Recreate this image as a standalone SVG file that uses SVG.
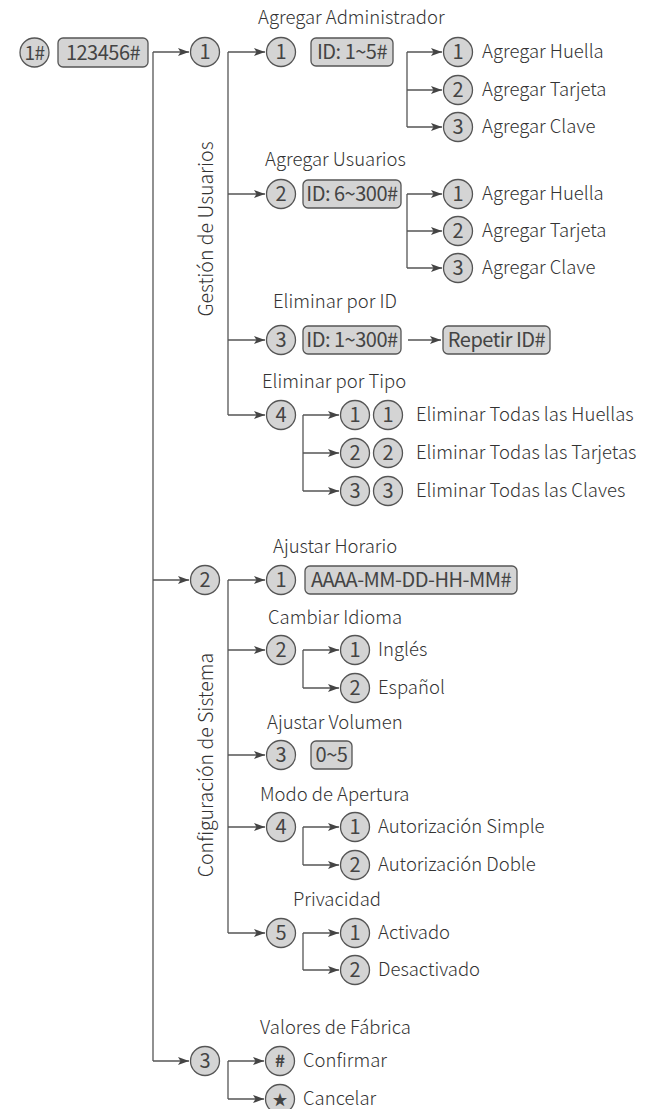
<svg xmlns="http://www.w3.org/2000/svg" width="647" height="1109" viewBox="0 0 647 1109">
<style>
text{font-family:"Noto Sans CJK SC","Source Sans Pro","Liberation Sans",sans-serif;font-weight:300;fill:#333;font-size:18.5px}
.c{fill:#d4d4d4;stroke:#555;stroke-width:1.3}
.b{fill:#d4d4d4;stroke:#555;stroke-width:1.3}
.n{text-anchor:middle;font-size:20px;font-weight:400;fill:#444}
.bt{text-anchor:middle;font-size:20px;font-weight:400;fill:#444;letter-spacing:-0.5px}
.r{text-anchor:middle;font-size:19.5px}
.l{fill:none;stroke:#555;stroke-width:1.3}
.a{fill:none;stroke:#555;stroke-width:1.3;marker-end:url(#ah)}
</style>
<defs>
<marker id="ah" markerUnits="userSpaceOnUse" markerWidth="12" markerHeight="10" refX="11" refY="4" orient="auto">
<path d="M0,0 L11,4 L0,8 L2.5,4 z" fill="#444"/>
</marker>
</defs>
<rect width="647" height="1109" fill="#fff"/>
<g id="connectors">
<path class="l" d="M153,52 V1061"/>
<path class="a" d="M153,52 H189"/>
<path class="a" d="M153,580 H189"/>
<path class="a" d="M153,1061 H189"/>
<path class="l" d="M228,52 V415"/>
<path class="a" d="M228,52 H265"/>
<path class="a" d="M228,194 H265"/>
<path class="a" d="M228,340 H265"/>
<path class="a" d="M228,415 H265"/>
<path class="l" d="M407,52 V127"/>
<path class="a" d="M407,52 H442"/>
<path class="a" d="M407,90 H442"/>
<path class="a" d="M407,127 H442"/>
<path class="l" d="M407,194 V268"/>
<path class="a" d="M407,194 H442"/>
<path class="a" d="M407,231 H442"/>
<path class="a" d="M407,268 H442"/>
<path class="a" d="M408,340 H441"/>
<path class="l" d="M303,415 V491"/>
<path class="a" d="M303,415 H339"/>
<path class="a" d="M303,453 H339"/>
<path class="a" d="M303,491 H339"/>
<path class="l" d="M228,580 V933"/>
<path class="a" d="M228,580 H265"/>
<path class="a" d="M228,650 H265"/>
<path class="a" d="M228,755 H265"/>
<path class="a" d="M228,827 H265"/>
<path class="a" d="M228,933 H265"/>
<path class="l" d="M303,650 V688"/>
<path class="a" d="M303,650 H339"/>
<path class="a" d="M303,688 H339"/>
<path class="l" d="M303,827 V865"/>
<path class="a" d="M303,827 H339"/>
<path class="a" d="M303,865 H339"/>
<path class="l" d="M303,933 V970"/>
<path class="a" d="M303,933 H339"/>
<path class="a" d="M303,970 H339"/>
<path class="l" d="M228,1061 V1099"/>
<path class="a" d="M228,1061 H264"/>
<path class="a" d="M228,1099 H264"/>
</g>
<g id="start">
<circle class="c" cx="34.5" cy="52.5" r="14.5"/><text class="n" x="34.5" y="59.5" style="font-size:19px;letter-spacing:-0.5px">1#</text>
<rect class="b" x="58" y="38" width="90" height="29" rx="5"/><text class="bt" x="103" y="59.5">123456#</text>
</g>
<g id="gestion">
<circle class="c" cx="205" cy="52" r="14.5"/><text class="n" x="205" y="59">1</text>
<text class="r" x="213" y="229" transform="rotate(-90 213 229)">Gestión de Usuarios</text>
</g>
<g id="agregar-admin">
<text x="258" y="24">Agregar Administrador</text>
<circle class="c" cx="281" cy="52" r="14.5"/><text class="n" x="281" y="59">1</text>
<rect class="b" x="311" y="38" width="82" height="28" rx="5"/><text class="bt" x="352" y="59">ID: 1~5#</text>
<circle class="c" cx="458" cy="52" r="14.5"/><text class="n" x="458" y="59">1</text><text x="482" y="58">Agregar Huella</text>
<circle class="c" cx="458" cy="90" r="14.5"/><text class="n" x="458" y="97">2</text><text x="482" y="96">Agregar Tarjeta</text>
<circle class="c" cx="458" cy="127" r="14.5"/><text class="n" x="458" y="134">3</text><text x="482" y="133">Agregar Clave</text>
</g>
<g id="agregar-usuarios">
<text x="265" y="166">Agregar Usuarios</text>
<circle class="c" cx="281" cy="194" r="14.5"/><text class="n" x="281" y="201">2</text>
<rect class="b" x="303" y="180" width="98" height="28" rx="5"/><text class="bt" x="352" y="201">ID: 6~300#</text>
<circle class="c" cx="458" cy="194" r="14.5"/><text class="n" x="458" y="201">1</text><text x="482" y="200">Agregar Huella</text>
<circle class="c" cx="458" cy="231" r="14.5"/><text class="n" x="458" y="238">2</text><text x="482" y="237">Agregar Tarjeta</text>
<circle class="c" cx="458" cy="268" r="14.5"/><text class="n" x="458" y="275">3</text><text x="482" y="274">Agregar Clave</text>
</g>
<g id="eliminar-id">
<text x="273" y="308">Eliminar por ID</text>
<circle class="c" cx="281" cy="340" r="14.5"/><text class="n" x="281" y="347">3</text>
<rect class="b" x="303" y="326" width="98" height="28" rx="5"/><text class="bt" x="352" y="347">ID: 1~300#</text>
<rect class="b" x="443" y="326" width="107" height="28" rx="5"/><text class="bt" x="496.5" y="347">Repetir ID#</text>
</g>
<g id="eliminar-tipo">
<text x="262" y="388">Eliminar por Tipo</text>
<circle class="c" cx="281" cy="415" r="14.5"/><text class="n" x="281" y="422">4</text>
<circle class="c" cx="355" cy="415" r="14.5"/><text class="n" x="355" y="422">1</text>
<circle class="c" cx="388" cy="415" r="14.5"/><text class="n" x="388" y="422">1</text><text x="416" y="421">Eliminar Todas las Huellas</text>
<circle class="c" cx="355" cy="453" r="14.5"/><text class="n" x="355" y="460">2</text>
<circle class="c" cx="388" cy="453" r="14.5"/><text class="n" x="388" y="460">2</text><text x="416" y="459">Eliminar Todas las Tarjetas</text>
<circle class="c" cx="355" cy="491" r="14.5"/><text class="n" x="355" y="498">3</text>
<circle class="c" cx="388" cy="491" r="14.5"/><text class="n" x="388" y="498">3</text><text x="416" y="497">Eliminar Todas las Claves</text>
</g>
<g id="configuracion">
<circle class="c" cx="205" cy="580" r="14.5"/><text class="n" x="205" y="587">2</text>
<text class="r" x="213" y="765" transform="rotate(-90 213 765)">Configuración de Sistema</text>
</g>
<g id="horario">
<text x="273" y="553">Ajustar Horario</text>
<circle class="c" cx="281" cy="580" r="14.5"/><text class="n" x="281" y="587">1</text>
<rect class="b" x="305" y="566" width="212" height="28" rx="5"/><text class="bt" x="411" y="587">AAAA-MM-DD-HH-MM#</text>
</g>
<g id="idioma">
<text x="268" y="624">Cambiar Idioma</text>
<circle class="c" cx="281" cy="650" r="14.5"/><text class="n" x="281" y="657">2</text>
<circle class="c" cx="355" cy="650" r="14.5"/><text class="n" x="355" y="657">1</text><text x="378" y="656">Inglés</text>
<circle class="c" cx="355" cy="688" r="14.5"/><text class="n" x="355" y="695">2</text><text x="378" y="694">Español</text>
</g>
<g id="volumen">
<text x="267" y="729">Ajustar Volumen</text>
<circle class="c" cx="281" cy="755" r="14.5"/><text class="n" x="281" y="762">3</text>
<rect class="b" x="311" y="741" width="41" height="28" rx="5"/><text class="bt" x="331.5" y="762">0~5</text>
</g>
<g id="apertura">
<text x="260" y="801">Modo de Apertura</text>
<circle class="c" cx="281" cy="827" r="14.5"/><text class="n" x="281" y="834">4</text>
<circle class="c" cx="355" cy="827" r="14.5"/><text class="n" x="355" y="834">1</text><text x="378" y="833">Autorización Simple</text>
<circle class="c" cx="355" cy="865" r="14.5"/><text class="n" x="355" y="872">2</text><text x="378" y="871">Autorización Doble</text>
</g>
<g id="privacidad">
<text x="293" y="906">Privacidad</text>
<circle class="c" cx="281" cy="933" r="14.5"/><text class="n" x="281" y="940">5</text>
<circle class="c" cx="355" cy="933" r="14.5"/><text class="n" x="355" y="940">1</text><text x="378" y="939">Activado</text>
<circle class="c" cx="355" cy="970" r="14.5"/><text class="n" x="355" y="977">2</text><text x="378" y="976">Desactivado</text>
</g>
<g id="fabrica">
<circle class="c" cx="205" cy="1061" r="14.5"/><text class="n" x="205" y="1068">3</text>
<text x="260" y="1034">Valores de Fábrica</text>
<circle class="c" cx="280" cy="1061" r="14.5"/><text class="n" x="280" y="1067" style="font-size:17px;font-weight:700">#</text><text x="303" y="1067">Confirmar</text>
<circle class="c" cx="280" cy="1099" r="14.5"/><text class="n" x="280" y="1104.5" style="font-size:15px">★</text><text x="303" y="1105">Cancelar</text>
</g>
</svg>
